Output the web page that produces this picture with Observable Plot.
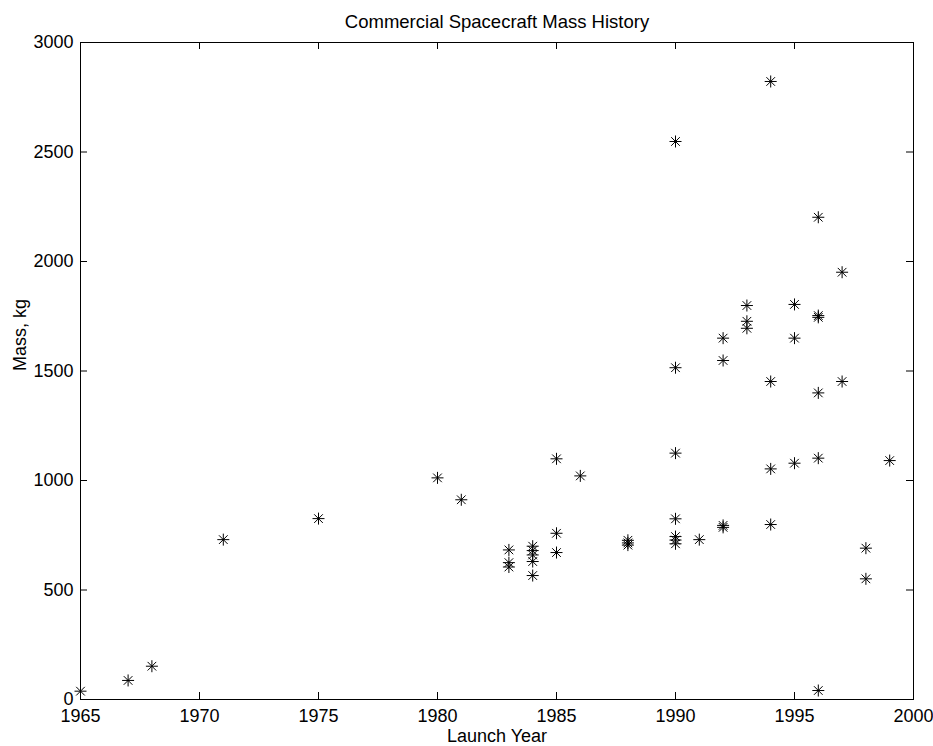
<!DOCTYPE html>
<html>
<head>
<meta charset="utf-8">
<script src="https://cdn.jsdelivr.net/npm/d3@7"></script>
<script src="https://cdn.jsdelivr.net/npm/@observablehq/plot@0.6"></script>
<style>
  html, body { margin: 0; padding: 0; background: #fff; overflow: hidden; }
</style>
</head>
<body>
<div id="chart"></div>
<script>
// ---- Data ----
const years = [
  1965, 1967, 1968, 1971, 1975, 1980, 1981,
  1983, 1983, 1983,
  1984, 1984, 1984, 1984, 1984,
  1985, 1985, 1985, 1986,
  1988, 1988, 1988,
  1990, 1990, 1990, 1990, 1990, 1990, 1990,
  1991,
  1992, 1992, 1992, 1992,
  1993, 1993, 1993,
  1994, 1994, 1994, 1994,
  1995, 1995, 1995,
  1996, 1996, 1996, 1996, 1996, 1996,
  1997, 1997,
  1998, 1998,
  1999
];
const masses = [
  38, 87, 152, 730, 826, 1012, 912,
  683, 625, 605,
  700, 680, 660, 630, 566,
  1099, 759, 671, 1021,
  727, 715, 705,
  2548, 1515, 1125, 825, 744, 728, 711,
  730,
  1650, 1548, 795, 786,
  1799, 1727, 1695,
  2822, 1452, 1053, 799,
  1804, 1650, 1079,
  2202, 1753, 1745, 1400, 1102, 41,
  1951, 1452,
  691, 551,
  1091
];
const xTicks = [1965, 1970, 1975, 1980, 1985, 1990, 1995, 2000];
const yTicks = [0, 500, 1000, 1500, 2000, 2500, 3000];
const titleText = "Commercial Spacecraft Mass History";
const xLabelText = "Launch Year";
const yLabelText = "Mass, kg";

const data = years.map((year, i) => ({year, mass: masses[i]}));

// ---- Layout ----
const W = 933, H = 746;
const mL = 80, mR = 20, mT = 42, mB = 47;
const innerW = W - mL - mR, innerH = H - mT - mB;
const tickLen = 7;
const font = "'Liberation Sans', Arial, Helvetica, sans-serif";
const fs = 18;
const fsTitle = 18.5;

// MATLAB-style '*' marker: plus + times
const asterisk = {
  draw(ctx, size) {
    const r = Math.sqrt(size / Math.PI);
    const d = r * 0.72;
    ctx.moveTo(-r, 0); ctx.lineTo(r, 0);
    ctx.moveTo(0, -r); ctx.lineTo(0, r);
    ctx.moveTo(-d, -d); ctx.lineTo(d, d);
    ctx.moveTo(-d, d); ctx.lineTo(d, -d);
  }
};

const chart = Plot.plot({
  width: W,
  height: H,
  marginLeft: mL,
  marginRight: mR,
  marginTop: mT,
  marginBottom: mB,
  style: {fontFamily: font, fontSize: fs + "px", color: "#000", background: "#fff"},
  x: {domain: [1965, 2000]},
  y: {domain: [0, 3000]},
  marks: [
    Plot.axisX(xTicks, {tickSize: 0, tickPadding: 10, label: null, tickFormat: d => String(d), fontSize: fs, fill: "#000"}),
    Plot.axisY(yTicks, {tickSize: 0, tickPadding: 7, label: null, tickFormat: d => String(d), fontSize: fs, fill: "#000"}),
    Plot.tickX(xTicks, {x: d => d, insetTop: innerH - tickLen, stroke: "#000"}),
    Plot.tickX(xTicks, {x: d => d, insetBottom: innerH - tickLen, stroke: "#000"}),
    Plot.tickY(yTicks, {y: d => d, insetRight: innerW - tickLen, stroke: "#000"}),
    Plot.tickY(yTicks, {y: d => d, insetLeft: innerW - tickLen, stroke: "#000"}),
    Plot.frame({stroke: "#000", strokeWidth: 1}),
    Plot.dot(data, {x: "year", y: "mass", symbol: asterisk, r: 6, stroke: "#000", fill: "none", strokeWidth: 1}),
    Plot.text([titleText], {frameAnchor: "top", dy: -15, lineAnchor: "bottom", fontSize: fsTitle, fill: "#000"}),
    Plot.text([xLabelText], {frameAnchor: "bottom", dy: 42, lineAnchor: "bottom", fontSize: fs, fill: "#000"}),
    Plot.text([yLabelText], {frameAnchor: "left", dx: -55, rotate: -90, lineAnchor: "bottom", fontSize: fs, fill: "#000"})
  ]
});
document.getElementById("chart").appendChild(chart);
</script>
</body>
</html>
